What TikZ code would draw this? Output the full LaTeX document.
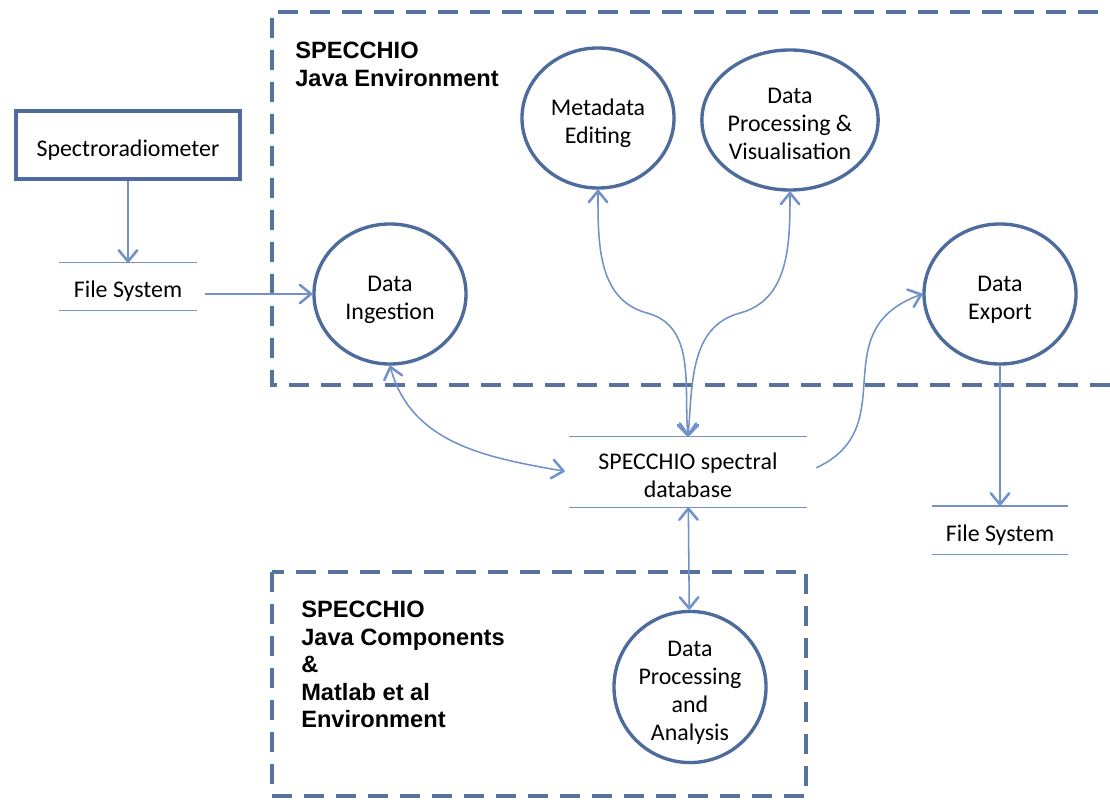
\documentclass[tikz,border=0pt]{standalone}
\usepackage{fontspec}
\setmainfont{Carlito}
\newfontfamily\zonefont{Liberation Sans}
\usetikzlibrary{shapes.geometric,arrows.meta,positioning}
\definecolor{procblue}{HTML}{4D6B9C}
\definecolor{flowblue}{HTML}{7092C8}
\definecolor{zoneblue}{HTML}{5872A0}
\newcommand{\tstrut}{\rule{0pt}{16pt}}

\begin{document}
\begin{tikzpicture}[x=0.025cm, y=0.025cm,
  every node/.style={font=\fontsize{17}{20}\selectfont, align=center, text depth=0pt},
  process/.style={draw=procblue, line width=2.4pt, ellipse, minimum width=3.8cm, minimum height=3.5cm, inner sep=0pt},
  store/.style={inner sep=0pt},
  storeline/.style={flowblue, line width=1.1pt},
  barb/.tip={Straight Barb[length=2.8mm, width=4.6mm, line width=1.8pt, round]},
  flow/.style={flowblue, line width=1.1pt, -barb},
  flowboth/.style={flowblue, line width=1.1pt, barb-barb},
  zone/.style={zoneblue, line width=2.6pt, dash pattern=on 0.5cm off 0.3cm},
  zonelabel/.style={font=\zonefont\bfseries\fontsize{16.8}{19.5}\selectfont, align=left, anchor=north west, inner sep=0pt}]
			\useasboundingbox (0,0) rectangle (1110,-800);
			
			% environments
			\draw[zone] (1130,-12) -- (272,-12) -- (272,-385) -- (1130,-385);
			\draw[zone] (272,-572) rectangle (806,-796);
			\node[zonelabel] (javaenv) at (295,-42) {SPECCHIO\\Java Environment};
			\node[zonelabel] (matlabenv) at (301,-601) {SPECCHIO\\Java Components\\\&\\Matlab et al\\Environment};
			
			\node[draw=procblue, line width=2.4pt, minimum width=5.6cm, minimum height=1.7cm] (spec) at (128,-145) {\tstrut Spectroradiometer};
			\node[store, minimum width=3.425cm, minimum height=1.175cm, below=2.05cm of spec] (fs1) {\tstrut File System};
			
			\node[process] (ing) at (390,-294) {\tstrut Data\\Ingestion};
			\node[process] (meta) at (598,-118) {\tstrut Metadata\\Editing};
			\node[process] (vis) at (790,-120) {\tstrut Data\\Processing \&\\Visualisation};
			\node[process] (exp) at (1000,-294) {\tstrut Data\\Export};
			\node[process] (dpa) at (690,-687) {\tstrut Data\\Processing\\and\\Analysis};
			
			\node[store, minimum width=5.95cm, minimum height=1.75cm] (db) at (688,-472) {\tstrut SPECCHIO spectral\\database};
			\node[store, minimum width=3.375cm, minimum height=1.2cm, below=3.5cm of exp] (fs2) {\tstrut File System};
			
			% store lines
			\foreach \s in {fs1, db, fs2}
				\draw[storeline] (\s.north west) -- (\s.north east) (\s.south west) -- (\s.south east);
			
			\coordinate (kinkl) at (647,-313);
			\coordinate (kinkr) at (740,-313);
			
			\draw[flow] (spec) -- (fs1);
			\draw[flow, shorten <=0.2cm] (fs1.east |- ing.west) -- (ing.west);
			\draw[flowboth, shorten >=0.1cm] (ing.south) to[out=-75, in=170] (db.west);
			\draw[flowboth] (meta.south) to[out=-90, in=165] (kinkl) to[out=-15, in=95] (db.north);
			\draw[flowboth] (vis.south) to[out=-90, in=15] (kinkr) to[out=-165, in=85] (db.north);
			\draw[flow, shorten <=0.25cm] (db.east) to[out=25, in=200, looseness=1.3] (exp.west);
			\draw[flow] (exp) -- (fs2);
			\draw[flowboth] (db) -- (dpa);
		\end{tikzpicture}
\end{document}
